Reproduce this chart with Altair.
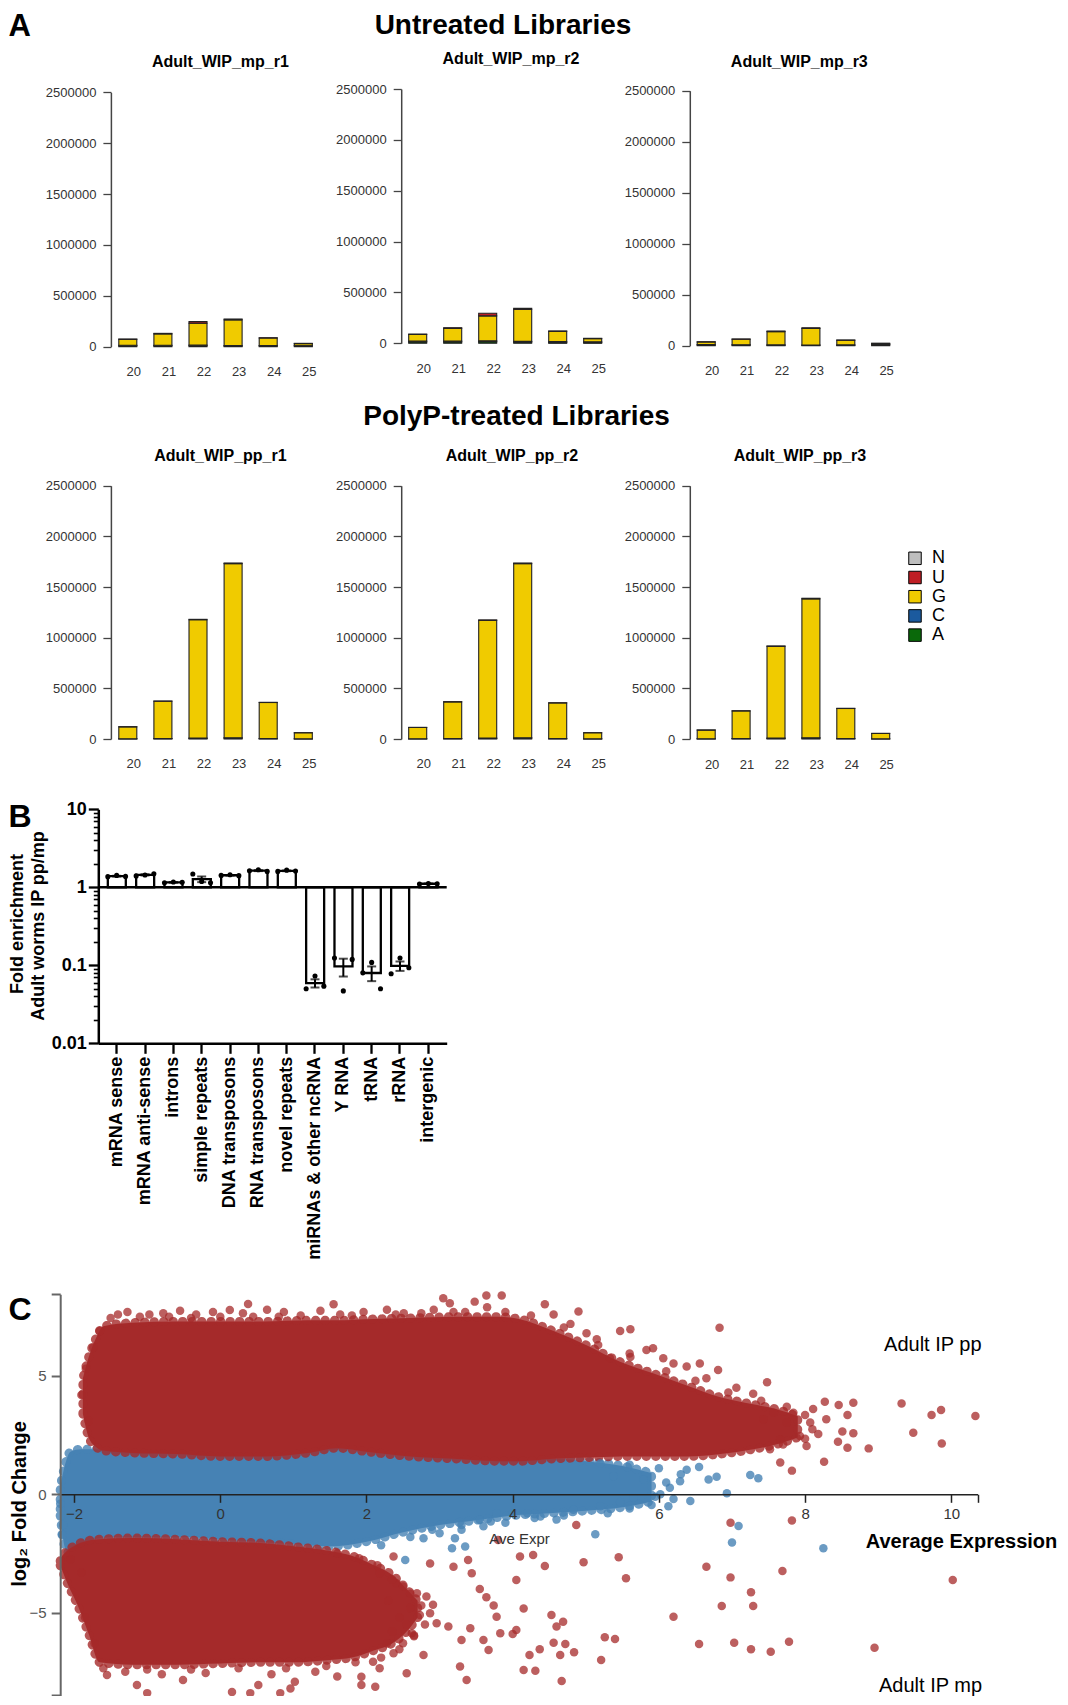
import altair as alt
import pandas as pd

W, H = 1052, 1688
FONT = "Liberation Sans"


def pg(v):
    """page pixel -> chart pixel (page has an 8px margin)"""
    return round(v - 8, 2)


# ================= Panel A data =================
lengths = ["20", "21", "22", "23", "24", "25"]
nucleotides = ["N", "U", "G", "C", "A"]
nuc_colors = ["#BEBEBE", "#BF1E24", "#F0CB00", "#1B5A9E", "#0A690A"]
stack_rank = ["A", "C", "G", "U", "N"]
row_titles = ["Untreated Libraries", "PolyP-treated Libraries"]
library_names = ["Adult_WIP_mp_r1", "Adult_WIP_mp_r2", "Adult_WIP_mp_r3",
                 "Adult_WIP_pp_r1", "Adult_WIP_pp_r2", "Adult_WIP_pp_r3"]
y_ticks_A = [0, 500000, 1000000, 1500000, 2000000, 2500000]

mp_r1 = {"A": [9000, 9000, 10000, 7000, 7000, 8000],
         "C": [5000, 5000, 6000, 4000, 5000, 6000],
         "G": [58000, 112000, 215000, 253000, 73000, 17000],
         "U": [3000, 5000, 15000, 8000, 3000, 2000],
         "N": [0, 0, 0, 0, 0, 0]}
mp_r2 = {"A": [14000, 14000, 15000, 12000, 10000, 9000],
         "C": [8000, 8000, 9000, 7000, 6000, 6000],
         "G": [65000, 125000, 246000, 315000, 101000, 31000],
         "U": [4000, 6000, 25000, 10000, 4000, 3000],
         "N": [0, 0, 0, 0, 0, 0]}
mp_r3 = {"A": [7000, 6000, 5000, 4000, 5000, 7000],
         "C": [4000, 4000, 3000, 3000, 3000, 5000],
         "G": [25000, 53000, 130000, 162000, 45000, 10000],
         "U": [3000, 3000, 6000, 7000, 3000, 2000],
         "N": [0, 0, 0, 0, 0, 0]}
pp_r1 = {"A": [2000, 3000, 6000, 8000, 3000, 1000],
         "C": [1000, 2000, 3000, 5000, 2000, 1000],
         "G": [117000, 368000, 1168000, 1718000, 355000, 59000],
         "U": [1000, 2000, 4000, 6000, 2000, 1000],
         "N": [0, 0, 0, 0, 0, 0]}
pp_r2 = {"A": [2000, 3000, 6000, 8000, 3000, 1000],
         "C": [1000, 2000, 3000, 5000, 2000, 1000],
         "G": [111000, 361000, 1162000, 1718000, 351000, 59000],
         "U": [1000, 2000, 4000, 6000, 2000, 1000],
         "N": [0, 0, 0, 0, 0, 0]}
pp_r3 = {"A": [2000, 3000, 6000, 8000, 3000, 1000],
         "C": [1000, 2000, 3000, 5000, 2000, 1000],
         "G": [85000, 272000, 905000, 1370000, 296000, 53000],
         "U": [1000, 2000, 4000, 6000, 2000, 1000],
         "N": [0, 0, 0, 0, 0, 0]}
library_counts = [mp_r1, mp_r2, mp_r3, pp_r1, pp_r2, pp_r3]

# layout of the six small panels (page pixels)
geo_A = [
    dict(axis=110.9, y0=346.7, ytop=92.3, bar0=118.8, step=35.1, tx=220.4, ty=62.3, ly=371.7),
    dict(axis=401.2, y0=343.3, ytop=89.0, bar0=408.7, step=35.0, tx=511.0, ty=59.0, ly=368.3),
    dict(axis=689.8, y0=345.7, ytop=90.7, bar0=697.2, step=34.9, tx=799.3, ty=61.7, ly=370.0),
    dict(axis=110.9, y0=739.0, ytop=485.7, bar0=118.8, step=35.1, tx=220.4, ty=455.7, ly=763.3),
    dict(axis=401.2, y0=739.0, ytop=485.7, bar0=408.7, step=35.0, tx=512.0, ty=455.7, ly=763.3),
    dict(axis=689.8, y0=739.0, ytop=485.7, bar0=697.2, step=34.9, tx=800.0, ty=455.7, ly=764.0),
]

# ================= Panel B data =================
b_categories = ["mRNA sense", "mRNA anti-sense", "introns", "simple repeats",
                "DNA transposons", "RNA transposons", "novel repeats",
                "miRNAs & other ncRNA", "Y RNA", "tRNA", "rRNA", "intergenic"]
b_rep_left = [1.37, 1.40, 1.14, 1.48, 1.42, 1.63, 1.60, 0.050, 0.124, 0.080, 0.078, 1.10]
b_rep_mid = [1.42, 1.44, 1.17, 1.19, 1.45, 1.68, 1.66, 0.073, 0.047, 0.109, 0.124, 1.12]
b_rep_right = [1.38, 1.49, 1.16, 1.14, 1.41, 1.60, 1.62, 0.054, 0.119, 0.050, 0.093, 1.11]
b_major_ticks = [0.01, 0.1, 1, 10]
b_minor_ticks = [0.02, 0.03, 0.04, 0.05, 0.06, 0.07, 0.08, 0.09,
                 0.2, 0.3, 0.4, 0.5, 0.6, 0.7, 0.8, 0.9,
                 2, 3, 4, 5, 6, 7, 8, 9]
b_ytitle = ["Fold enrichment", "Adult worms IP pp/mp"]

# ================= Panel C data =================
c_blue_x = [-2.19, -2.12, -2.05, -1.9, -1.5, -1.0, -0.5, 0.0, 0.5, 1.0, 1.5, 2.0,
            2.5, 3.0, 3.5, 4.0, 4.5, 5.0, 5.5, 5.9]
c_blue_lo = [-0.9, -2.3, -2.5, -2.1, -1.8, -1.8, -1.8, -1.9, -2.0, -2.1, -2.2, -2.0,
             -1.6, -1.3, -1.1, -0.9, -0.8, -0.7, -0.55, -0.3]
c_blue_hi = [0.3, 1.3, 1.8, 1.9, 1.9, 1.9, 1.8, 1.8, 1.8, 1.8, 2.0, 1.9,
             1.8, 1.7, 1.6, 1.5, 1.5, 1.4, 1.2, 0.9]

c_up_x = [-1.88, -1.8, -1.7, -1.6, -1.2, -0.6, 0.0, 0.6, 1.2, 1.6, 2.0, 2.6, 3.2, 3.8,
          4.1, 4.56, 5.01, 5.47, 5.93, 6.38, 6.84, 7.29, 7.6, 7.9]
c_up_lo = [3.4, 2.4, 2.0, 1.85, 1.75, 1.7, 1.6, 1.6, 1.75, 1.95, 1.8, 1.6, 1.5, 1.4,
           1.4, 1.5, 1.55, 1.6, 1.6, 1.6, 1.7, 1.9, 2.1, 2.4]
c_up_hi = [4.9, 5.8, 6.6, 7.1, 7.25, 7.3, 7.3, 7.3, 7.35, 7.35, 7.4, 7.45, 7.5, 7.5,
           7.4, 6.9, 6.3, 5.6, 5.1, 4.6, 4.1, 3.8, 3.6, 3.3]

c_low_x = [-2.19, -2.1, -1.95, -1.8, -1.65, -1.2, -0.6, 0.0, 0.5, 1.0, 1.5, 1.8, 2.1,
           2.35, 2.55, 2.7]
c_low_lo = [-3.0, -3.7, -4.7, -5.9, -7.1, -7.2, -7.2, -7.15, -7.1, -7.1, -7.0, -6.9, -6.6,
            -6.3, -5.8, -5.2]
c_low_hi = [-2.7, -2.4, -2.1, -1.95, -1.9, -1.85, -1.9, -2.0, -2.05, -2.2, -2.4, -2.6, -3.0,
            -3.4, -4.0, -4.5]

c_red_pts = [
    (7.48, 4.73), (8.27, 3.91), (8.46, 3.77), (8.66, 3.87), (8.58, 3.35), (9.32, 3.84),
    (9.73, 3.35), (9.86, 3.56), (10.33, 3.31), (9.48, 2.60), (9.87, 2.15), (8.87, 1.94),
    (8.58, 1.97), (8.26, 1.38), (8.51, 2.65), (8.66, 2.58), (8.18, 2.55), (8.45, 2.22),
    (7.66, 1.34), (7.82, -1.11), (7.69, -3.24), (10.02, -3.62), (7.78, -6.23), (7.53, -6.65),
    (8.95, -6.48), (7.43, 3.17), (7.57, 3.45), (7.75, 3.03), (7.84, 3.45), (7.93, 2.46),
    (8.07, 3.03), (7.66, 2.32), (7.52, 1.9), (8.11, 3.6), (8.29, 3.17), (8.02, 2.04),
    (7.82, 1.0), (6.83, 7.04), (4.44, 8.03), (4.90, 7.72), (5.47, 6.9), (5.61, 6.97),
    (5.92, 6.17), (6.81, 5.25), (6.56, 5.53), (5.17, 6.31), (6.2, 5.53), (4.56, 7.6),
    (4.79, 7.2), (5.01, 6.8), (5.33, 5.75), (5.61, 5.8), (5.83, 6.1), (6.06, 5.75),
    (6.38, 5.4), (6.65, 4.9), (7.06, 4.5), (7.29, 4.25), (6.98, -1.2), (4.87, -1.3),
    (4.28, -2.56), (4.44, -3.03), (4.97, -2.87), (5.45, -2.66), (5.55, -3.55), (6.65, -3.06),
    (6.98, -3.51), (7.26, -4.14), (7.29, -4.72), (6.86, -4.72), (6.2, -5.17), (4.53, -5.1),
    (4.69, -5.38), (4.6, -5.59), (4.15, -4.82), (4.0, -5.9), (5.26, -6.04), (5.4, -6.11),
    (4.56, -6.27), (4.72, -6.32), (4.37, -6.55), (4.23, -6.79), (4.65, -6.79), (4.84, -6.67),
    (5.21, -7.0), (4.15, -7.42), (4.31, -7.45), (4.67, -7.89), (6.55, -6.32), (7.03, -6.27),
    (7.26, -6.55), (2.37, -2.63), (2.87, -2.92), (3.44, -3.34), (3.19, -3.06), (3.39, -2.78),
    (3.80, -1.93), (4.1, -2.63), (3.55, -4.0), (3.64, -4.35), (3.74, -4.7), (4.05, -3.62),
    (4.05, -5.73), (3.67, -6.58), (3.42, -5.66), (3.30, -6.16), (3.12, -5.59), (2.96, -5.45),
    (2.87, -5.03), (2.73, -5.10), (2.62, -5.87), (2.50, -6.29), (2.37, -6.72), (2.18, -7.35),
    (2.09, -7.07), (1.93, -7.71), (2.12, -8.13), (2.55, -7.56), (2.78, -6.79), (3.28, -7.28),
    (3.37, -7.85), (2.69, -4.18), (2.82, -4.32), (2.91, -4.67), (2.41, -3.76), (2.18, -3.34),
    (3.6, -6.16), (3.83, -5.87), (3.78, -5.17), (2.3, -4.5), (2.45, -5.2), (2.6, -4.8),
    (2.35, -5.8), (2.5, -3.9), (2.65, -6.0), (2.28, -6.3), (2.55, -5.5), (1.55, 8.03),
    (3.05, 8.28), (3.14, 8.07), (3.64, 8.4), (3.85, 8.4), (3.48, 8.14), (0.38, 8.04),
    (0.13, 7.79), (-1.40, 7.6), (-0.78, 7.65), (-1.27, 7.7), (-0.97, 7.6), (-0.55, 7.75),
    (-0.33, 7.6), (-0.10, 7.7), (0.31, 7.65), (0.64, 7.8), (0.87, 7.7), (1.37, 7.75),
    (1.64, 7.6), (1.96, 7.7), (2.28, 7.8), (2.51, 7.65), (2.92, 7.8), (3.19, 7.7),
    (3.65, 7.9), (-1.55, -7.63), (-1.0, -8.4), (-1.14, -8.06), (-0.51, -7.85), (0.16, -8.35),
    (0.41, -8.4), (0.52, -8.06), (0.82, -8.4), (1.02, -7.92), (0.96, -8.2), (1.93, -8.06),
    (-1.3, -7.5), (-0.8, -7.6), (-0.2, -7.55), (0.7, -7.6), (1.3, -7.5), (1.6, -7.7),
    (-1.8, 3.1),
    (-1.5, 7.45), (-1.1, 7.5), (-0.7, 7.5), (-0.4, 7.45), (0.0, 7.5), (0.45, 7.5),
    (0.8, 7.5), (1.1, 7.55), (1.8, 7.55), (2.4, 7.6), (2.75, 7.65), (3.35, 7.7),
    (3.9, 7.7), (4.25, 7.55), (4.7, 7.05), (5.15, 6.55), (5.6, 5.95), (6.1, 5.2),
    (6.5, 4.8), (6.95, 4.3), (7.4, 3.95), (7.75, 3.7), (8.0, 3.35), (8.1, 2.75),
    (8.0, 2.35), (7.7, 2.1), (-1.9, 4.2), (-1.84, 5.3), (-1.74, 6.2), (-1.65, 6.9),
    (-1.9, -3.3), (-2.05, -2.75), (-1.85, -5.2), (-1.72, -6.3), (-1.6, -7.35),
    (-1.0, -7.4), (-0.4, -7.4), (0.25, -7.35), (0.9, -7.35), (1.45, -7.25), (1.85, -7.1),
    (2.2, -6.9), (2.45, -6.55), (2.65, -5.95), (2.8, -5.5), (2.75, -4.7), (2.6, -4.2),
    (2.35, -3.6), (2.15, -3.0), (1.9, -2.7), (1.6, -2.5),
]
c_blue_pts = [
    (2.53, -2.78), (2.78, -1.86), (3.17, -2.28), (3.21, -1.86), (3.35, -2.21), (3.0, -1.65),
    (3.55, -1.09), (3.78, -0.8), (4.0, -0.8), (4.2, -0.8), (4.38, -0.94), (4.6, -1.07),
    (4.83, -0.65), (5.2, -0.5), (5.47, -0.33), (5.65, -0.14), (6.02, 0.0), (6.13, -0.5),
    (6.29, 0.55), (6.38, 1.04), (6.15, 0.28), (6.43, -0.28), (5.79, 0.63), (5.38, 0.76),
    (6.68, 0.63), (6.79, 0.74), (7.25, 0.82), (6.93, 0.04), (7.09, -1.34), (7.0, -2.04),
    (5.13, -1.69), (8.25, -2.28), (7.36, 0.68), (-2.19, -0.4), (-2.17, -1.7), (-2.15, -1.3),
    (3.3, -1.5), (3.6, -1.35), (3.9, -1.2),
    (2.2, -2.15), (2.6, -1.8), (2.9, -1.5), (3.3, -1.3), (3.7, -1.15), (4.3, -1.0),
    (4.7, -0.9), (5.3, -0.8), (5.6, -0.6), (5.9, -0.45), (6.1, 0.5), (5.2, 1.3),
    (5.6, 1.25), (6.0, 1.1), (6.3, 0.85), (6.55, 1.15), (5.95, -0.1), (6.2, -0.2),
]
c_x_ticks = [-2, 0, 2, 4, 6, 8, 10, 10.36]
c_y_ticks = [-8.5, -5, 0, 5, 8.45]
c_labels = ["Ave Expr", "Average Expression", "Adult IP pp", "Adult IP mp", "log\u2082 Fold Change"]

RED = "#A52A2A"
BLUE = "#4682B4"


# ================= helpers =================
def text_layer(txt, x, y, size, weight="normal", align="center", baseline="middle",
               angle=0, color="black"):
    return alt.Chart(pd.DataFrame({"t": [txt]})).mark_text(
        font=FONT, fontSize=size, fontWeight=weight, align=align, baseline=baseline,
        angle=angle, color=color
    ).encode(text="t:N", x=alt.value(pg(x)), y=alt.value(pg(y)))


def lib_df(counts):
    rows = []
    for nuc in stack_rank:
        for L, v in zip(lengths, counts[nuc]):
            if v > 0:
                rows.append({"len": L, "nuc": nuc, "count": v, "rank": stack_rank.index(nuc)})
    return pd.DataFrame(rows)


legend_A = alt.Legend(orient="none", legendX=pg(906), legendY=pg(549.3), title=None,
                      symbolType="square", symbolSize=156, symbolStrokeColor="black",
                      symbolStrokeWidth=1, labelFont=FONT, labelFontSize=18,
                      labelColor="black", labelOffset=8, rowPadding=1.2, padding=0,
                      direction="vertical")


def bar_panel(counts, g):
    pi = 0.145
    start = g["bar0"] - g["step"] * pi / 2
    end = start + 6 * g["step"]
    xs = alt.Scale(domain=lengths, range=[pg(start), pg(end)],
                   paddingInner=pi, paddingOuter=pi / 2)
    ys = alt.Scale(domain=[0, 2500000], range=[pg(g["y0"]), pg(g["ytop"])],
                   nice=False, zero=False)
    return alt.Chart(lib_df(counts)).mark_bar(stroke="#222", strokeWidth=1.1).encode(
        x=alt.X("len:N", scale=xs, sort=lengths,
                axis=alt.Axis(orient="bottom", offset=-(H - pg(g["y0"])), domain=False,
                              ticks=False, tickSize=0, labelPadding=g["ly"] - g["y0"],
                              labelBaseline="middle", labelAngle=0, labelFont=FONT,
                              labelFontSize=13, labelColor="#333", title=None)),
        y=alt.Y("count:Q", stack="zero", scale=ys,
                axis=alt.Axis(orient="left", offset=-pg(g["axis"]), values=y_ticks_A,
                              format="d", tickSize=8, tickColor="#444", tickWidth=1.3,
                              domainColor="#444", domainWidth=1.5, labelPadding=7,
                              labelFont=FONT, labelFontSize=13, labelColor="#333",
                              title=None, grid=False)),
        color=alt.Color("nuc:N", scale=alt.Scale(domain=nucleotides, range=nuc_colors),
                        legend=legend_A),
        order=alt.Order("rank:Q", sort="ascending"),
    )


layers = []

# ---------------- Panel A ----------------
layers.append(text_layer("A", 8.5, 35.5, 31, "bold", align="left", baseline="alphabetic"))
layers.append(text_layer(row_titles[0], 503, 34.0, 28, "bold", baseline="alphabetic"))
layers.append(text_layer(row_titles[1], 516.5, 425.0, 28, "bold", baseline="alphabetic"))

for name, counts, g in zip(library_names, library_counts, geo_A):
    layers.append(bar_panel(counts, g))
    layers.append(text_layer(name, g["tx"], g["ty"], 16, "bold"))

# ---------------- Panel B ----------------
rows_B = []
for cat, a, b, c in zip(b_categories, b_rep_left, b_rep_mid, b_rep_right):
    rows_B += [{"cat": cat, "rep": "r0", "val": a},
               {"cat": cat, "rep": "r1", "val": b},
               {"cat": cat, "rep": "r2", "val": c}]
df_B = pd.DataFrame(rows_B)

yB = alt.Scale(type="log", domain=[0.01, 10], range=[pg(1043.3), pg(809.3)], nice=False)
xB = alt.Scale(domain=b_categories, range=[pg(98.3), pg(446.7)],
               paddingInner=0.375, paddingOuter=0.336)

axis_Bx = alt.Axis(orient="bottom", offset=-(H - pg(1043.3)), domainColor="black",
                   domainWidth=2.5, tickColor="black", tickWidth=2.3, tickSize=10,
                   labelAngle=-90, labelAlign="right", labelBaseline="middle",
                   labelPadding=3, labelFont=FONT, labelFontSize=18,
                   labelFontWeight="bold", labelColor="black", labelLimit=400, title=None)
axis_By = alt.Axis(orient="left", offset=-pg(98.3), values=b_major_ticks, format="~g",
                   domainColor="black", domainWidth=2.5, tickColor="black", tickWidth=2.3,
                   tickSize=10, labelPadding=2, labelFont=FONT, labelFontSize=18,
                   labelFontWeight="bold", labelColor="black", title=None, grid=False)
axis_By_minor = alt.Axis(orient="left", offset=-pg(98.3), values=b_minor_ticks,
                         domain=False, labels=False, tickColor="black", tickWidth=1.6,
                         tickSize=5, title=None, grid=False)

base_B = alt.Chart(df_B).transform_aggregate(
    m="mean(val)", se="stderr(val)", groupby=["cat"]
).transform_calculate(lo="datum.m - datum.se", hi="datum.m + datum.se")

bars_B = base_B.mark_bar(fill="white", stroke="black", strokeWidth=2.3).encode(
    x=alt.X("cat:N", scale=xB, sort=b_categories, axis=axis_Bx),
    y=alt.Y("m:Q", scale=yB, axis=axis_By),
    y2=alt.Y2Datum(1),
)
err_B = base_B.mark_rule(color="black", strokeWidth=2).encode(
    x=alt.X("cat:N", scale=xB, sort=b_categories, axis=None),
    y=alt.Y("lo:Q", scale=yB, axis=None), y2="hi:Q")
cap_lo = base_B.mark_tick(color="black", thickness=2, size=9).encode(
    x=alt.X("cat:N", scale=xB, sort=b_categories, axis=None),
    y=alt.Y("lo:Q", scale=yB, axis=None))
cap_hi = base_B.mark_tick(color="black", thickness=2, size=9).encode(
    x=alt.X("cat:N", scale=xB, sort=b_categories, axis=None),
    y=alt.Y("hi:Q", scale=yB, axis=None))
one_rule = alt.Chart(pd.DataFrame({"v": [1]})).mark_rule(color="black", strokeWidth=2.5).encode(
    y=alt.Y("v:Q", scale=yB, axis=None), x=alt.value(pg(98.3)), x2=alt.value(pg(446.7)))
dots_B = alt.Chart(df_B).mark_circle(color="black", opacity=1, size=26).encode(
    x=alt.X("cat:N", scale=xB, sort=b_categories, axis=None),
    xOffset=alt.XOffset("rep:N", scale=alt.Scale(paddingInner=0, paddingOuter=0)),
    y=alt.Y("val:Q", scale=yB, axis=None))
minor_B = alt.Chart(pd.DataFrame({"v": b_minor_ticks})).mark_point(opacity=0).encode(
    y=alt.Y("v:Q", scale=yB, axis=axis_By_minor), x=alt.value(pg(98.3)))

panel_B = alt.layer(bars_B, one_rule, err_B, cap_lo, cap_hi, dots_B, minor_B).resolve_axis(
    x="independent", y="independent")
layers.append(panel_B)
layers.append(text_layer("B", 8.5, 827, 32, "bold", align="left", baseline="alphabetic"))
layers.append(text_layer(b_ytitle[0], 18, 924, 18, "bold", angle=270))
layers.append(text_layer(b_ytitle[1], 39, 926, 18, "bold", angle=270))

# ---------------- Panel C ----------------
xC = alt.Scale(domain=[-2.19, 10.36], range=[pg(60.2), pg(977.6)], nice=False, zero=False)
yC = alt.Scale(domain=[-8.5, 8.45], range=[pg(1494.3 + 8.5 * 23.67), pg(1494.3 - 8.45 * 23.67)],
               nice=False, zero=False)
axis_Cx = alt.Axis(orient="bottom", offset=-(H - pg(1494.3)), values=c_x_ticks,
                   labelExpr="datum.value > 10.2 ? '' : datum.label",
                   domainColor="#222", domainWidth=1.5, tickColor="#222", tickWidth=1.5,
                   tickSize=8, labelPadding=4, labelFont=FONT, labelFontSize=15,
                   labelColor="#333", grid=False, title=c_labels[0], titleFont=FONT,
                   titleFontSize=15, titleFontWeight="normal", titleColor="#333",
                   titleX=pg(519), titleY=44, titleBaseline="middle", titleAlign="center",
                   zindex=1)
axis_Cy = alt.Axis(orient="left", offset=-pg(60.2), values=c_y_ticks,
                   labelExpr="abs(datum.value) > 8 ? '' : datum.label",
                   domainColor="#666", domainWidth=2, tickColor="#666", tickWidth=2,
                   tickSize=9, labelPadding=5, labelFont=FONT, labelFontSize=15,
                   labelColor="#555", grid=False, title=None, zindex=1)

df_blue = pd.DataFrame({"X": c_blue_x, "lo": c_blue_lo, "hi": c_blue_hi})
df_up = pd.DataFrame({"X": c_up_x, "lo": c_up_lo, "hi": c_up_hi})
df_low = pd.DataFrame({"X": c_low_x, "lo": c_low_lo, "hi": c_low_hi})
df_rp = pd.DataFrame(c_red_pts, columns=["X", "Y"])
df_bp = pd.DataFrame(c_blue_pts, columns=["X", "Y"])


def cloud(df, colour, axes=False):
    # dense point cloud: filled envelope whose outline is a chain of round dots
    return alt.Chart(df).mark_area(
        color=colour, stroke=colour, strokeWidth=9, strokeDash=[0.5, 9], strokeCap="round",
        strokeOpacity=0.8, interpolate="monotone"
    ).encode(
        x=alt.X("X:Q", scale=xC, axis=axis_Cx if axes else None),
        y=alt.Y("lo:Q", scale=yC, axis=axis_Cy if axes else None), y2="hi:Q")


blue_area = cloud(df_blue, BLUE, axes=True)
up_area = cloud(df_up, RED)
low_area = cloud(df_low, RED)
blue_pts = alt.Chart(df_bp).mark_circle(color=BLUE, opacity=0.8, size=72).encode(
    x=alt.X("X:Q", scale=xC, axis=None), y=alt.Y("Y:Q", scale=yC, axis=None))
red_pts = alt.Chart(df_rp).mark_circle(color=RED, opacity=0.75, size=72).encode(
    x=alt.X("X:Q", scale=xC, axis=None), y=alt.Y("Y:Q", scale=yC, axis=None))

panel_C = alt.layer(blue_area, up_area, low_area, blue_pts, red_pts).resolve_axis(
    x="independent", y="independent")
layers.append(panel_C)
layers.append(text_layer("C", 8.5, 1320, 32, "bold", align="left", baseline="alphabetic"))
layers.append(text_layer(c_labels[4], 20, 1504, 20, "bold", angle=270))
layers.append(text_layer(c_labels[1], 961.5, 1541.7, 20, "bold"))
layers.append(text_layer(c_labels[2], 932.8, 1345, 20))
layers.append(text_layer(c_labels[3], 930.5, 1692, 20, baseline="alphabetic"))

chart = alt.layer(*layers).resolve_scale(x="independent", y="independent").properties(
    width=W, height=H, padding=0, autosize=alt.AutoSizeParams(type="none")
).configure(font=FONT).configure_view(stroke=None).configure_axis(grid=False)

chart.save("out.html", embed_options={"renderer": "svg", "actions": False})
